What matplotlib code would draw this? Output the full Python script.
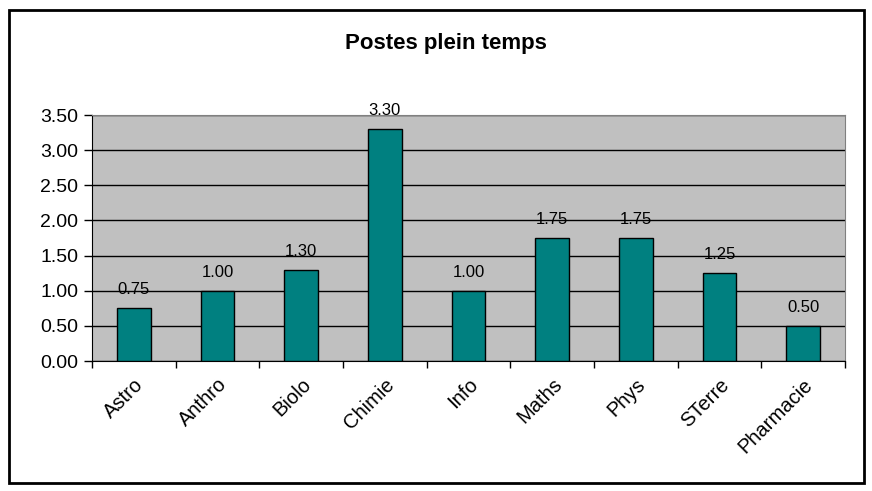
import matplotlib
matplotlib.use('Agg')
import matplotlib.pyplot as plt
from matplotlib.patches import Rectangle
import numpy as np

plt.rcParams['font.family'] = ['Liberation Sans', 'DejaVu Sans']

categories = ['Astro', 'Anthro', 'Biolo', 'Chimie', 'Info', 'Maths', 'Phys', 'STerre', 'Pharmacie']
postes = [0.75, 1.00, 1.30, 3.30, 1.00, 1.75, 1.75, 1.25, 0.50]
yticks = [0.0, 0.5, 1.0, 1.5, 2.0, 2.5, 3.0, 3.5]

fig = plt.figure(figsize=(8.72, 4.91), dpi=100)
fig.patches.append(Rectangle((9 / 872, 8 / 491), 855 / 872, 473 / 491, transform=fig.transFigure,
                             fill=False, edgecolor='black', linewidth=2))

ax = fig.add_axes([92 / 872, 1 - 361 / 491, 753 / 872, 246 / 491])
ax.set_facecolor('#C0C0C0')
x = np.arange(len(categories))
bars = ax.bar(x, postes, width=0.4, color='#008080', edgecolor='black', linewidth=1, zorder=3)
ax.bar_label(bars, labels=['%.2f' % v for v in postes], padding=8, fontsize=12)

ax.set_xlim(-0.5, len(categories) - 0.5)
ax.set_ylim(0, 3.5)
ax.set_yticks(yticks)
ax.set_yticklabels(['%.2f' % t for t in yticks], fontsize=14)
ax.yaxis.grid(True, color='black', linewidth=1, zorder=1)
ax.set_axisbelow(True)
ax.tick_params(axis='y', direction='out', length=6, width=1, pad=4)

ax.set_xticks(x)
ax.set_xticklabels(categories, rotation=45, ha='right', rotation_mode='anchor', fontsize=14.5)
ax.tick_params(axis='x', length=0, pad=10)
ax.set_xticks(np.arange(-0.5, len(categories), 1), minor=True)
ax.tick_params(axis='x', which='minor', direction='out', length=5, width=1)

ax.spines['left'].set_color('black')
ax.spines['bottom'].set_color('black')
ax.spines['top'].set_color('#808080')
ax.spines['right'].set_color('#808080')

fig.text(446 / 872, 1 - 44 / 491, 'Postes plein temps', ha='center', va='center',
         fontsize=16, fontweight='bold')

fig.savefig('out.png', dpi=100)
